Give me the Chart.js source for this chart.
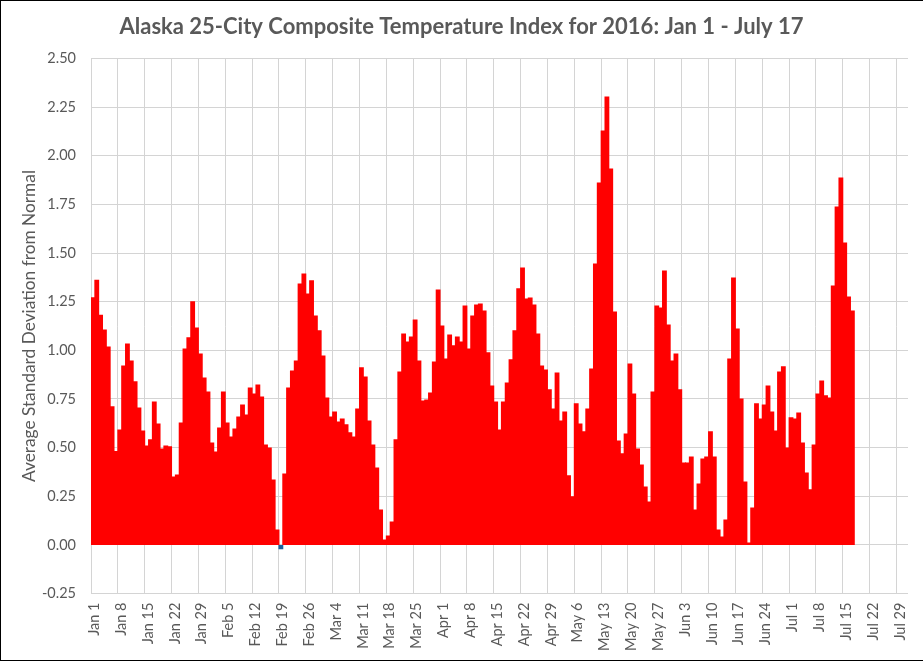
<!DOCTYPE html>
<html>
<head>
<meta charset="utf-8">
<style>
html,body{margin:0;padding:0;background:#fff;}
#wrap{position:relative;width:923px;height:661px;overflow:hidden;}
#frame{position:absolute;left:0;top:0;width:923px;height:661px;box-sizing:border-box;border:1px solid #000;border-right:none;pointer-events:none;}
canvas{display:block;}
</style>
<script src="https://cdn.jsdelivr.net/npm/chart.js@4"></script>
</head>
<body>
<div id="wrap"><canvas id="c" width="923" height="661"></canvas><div id="frame"></div></div>
<script>
const monthNames = ["Jan","Feb","Mar","Apr","May","Jun","Jul"];
const monthLengths = [31,29,31,30,31,30,31];
const yTicks = [-0.25,0,0.25,0.5,0.75,1,1.25,1.5,1.75,2,2.25,2.5];
const janFebValues = [1.27,1.36,1.18,1.105,1.017,.71,.48,.59,.92,1.033,.945,.838,.704,.586,.509,.54,.735,.622,.493,.509,.504,.349,.36,.627,1.007,1.064,1.249,1.115,.981,.858,.786,
  .524,.478,.601,.786,.627,.555,.596,.658,.719,.668,.807,.776,.822,.76,.514,.498,.334,.077,-.02,.365,.807,.894,.945,1.341,1.392,1.29,1.357,1.177,1.10];
const marValues = [.971,.755,.658,.683,.632,.647,.617,.576,.555,.699,.91,.863,.637,.514,.396,.18,.026,.046,.118,.54,.889,1.084,1.043,1.069,1.156,.945,.74,.745,.781,.94,1.31];
const aprValues = [1.125,.956,1.079,1.023,1.069,1.043,1.228,1.007,1.177,1.233,1.238,1.202,.987,.817,.735,.591,.735,.832,.951,1.10,1.316,1.423,1.264,1.269,1.233,1.084,.92,.899,.797,.699];
const mayValues = [.884,.637,.683,.355,.247,.725,.622,.581,.699,.904,1.444,1.86,2.127,2.302,1.932,1.197,.534,.468,.57,.93,.776,.493,.411,.298,.221,.786,1.228,1.218,1.408,1.13,.945];
const junValues = [.981,.797,.421,.421,.452,.18,.313,.442,.452,.581,.452,.077,.041,.128,.956,1.372,1.11,.75,.324,.01,.19,.725,.647,.719,.817,.683,.586,.889,.915,.498];
const julValues = [.653,.647,.678,.524,.37,.283,.514,.776,.843,.766,.755,1.331,1.737,1.886,1.552,1.274,1.202];

const categories = [];
monthNames.forEach((m,i)=>{ for(let d=1;d<=monthLengths[i];d++) categories.push(m+" "+d); });
const values = [...janFebValues,...marValues,...aprValues,...mayValues,...junValues,...julValues];

const textColor = "#595959";
const gridColor = "#d4d4d4";
const fontFamily = "Lato, 'Open Sans', sans-serif";

new Chart(document.getElementById("c"),{
  type:"bar",
  data:{labels:categories,datasets:[{
    data:values,
    backgroundColor:ctx=>(ctx.raw<0?"#1c5f9c":"#ff0000"),
    borderWidth:0,
    inflateAmount:0.5,
    barPercentage:1,
    categoryPercentage:1
  }]},
  options:{
    responsive:false,
    animation:false,
    devicePixelRatio:1,
    layout:{padding:0},
    plugins:{
      legend:{display:false},
      tooltip:{enabled:false},
      title:{
        display:true,
        text:"Alaska 25-City Composite Temperature Index for 2016: Jan 1 - July 17",
        color:textColor,
        font:{family:fontFamily,size:22,weight:"bold"},
        padding:{top:14,bottom:18}
      }
    },
    scales:{
      x:{
        offset:true,
        grid:{
          offset:true,
          drawTicks:false,
          color:ctx=>(ctx.index%7===0?gridColor:"rgba(0,0,0,0)"),
          lineWidth:1
        },
        border:{display:false},
        ticks:{
          autoSkip:false,
          maxRotation:90,
          minRotation:90,
          padding:9,
          labelOffset:1.5,
          color:textColor,
          font:{family:fontFamily,size:14.5},
          callback:function(v,i){return i%7===0?categories[i]:"";}
        },
        afterFit:s=>{s.height=67.4;s.paddingLeft=0;s.paddingRight=15;}
      },
      y:{
        min:-0.25,
        max:2.5,
        afterBuildTicks:s=>{s.ticks=yTicks.map(v=>({value:v}));},
        grid:{color:gridColor,drawTicks:false,lineWidth:1},
        border:{color:gridColor},
        ticks:{
          padding:15,
          color:textColor,
          font:{family:fontFamily,size:14.5},
          callback:v=>Number(v).toFixed(2)
        },
        title:{
          display:true,
          text:"Average Standard Deviation from Normal",
          color:textColor,
          font:{family:fontFamily,size:17.3},
          padding:{top:19,bottom:0}
        },
        afterFit:s=>{s.width=91;}
      }
    }
  }
});
</script>
</body>
</html>
